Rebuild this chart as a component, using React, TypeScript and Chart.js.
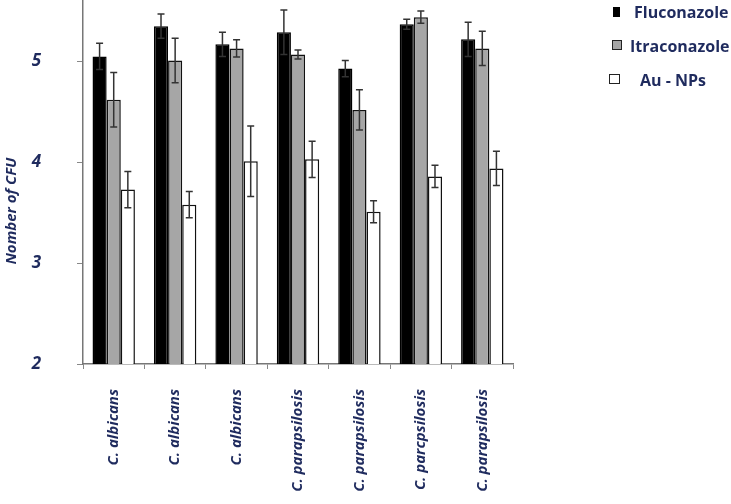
import React, { useEffect, useRef } from "react";
import { Chart, registerables } from "chart.js";

Chart.register(...registerables);

const categories = [
  "C. albicans",
  "C. albicans",
  "C. albicans",
  "C. parapsilosis",
  "C. parapsilosis",
  "C. parcpsilosis",
  "C. parapsilosis",
];
const fluconazole = [5.05, 5.35, 5.17, 5.29, 4.93, 5.37, 5.22];
const fluconazoleErr = [0.13, 0.12, 0.12, 0.22, 0.08, 0.05, 0.17];
const itraconazole = [4.62, 5.01, 5.13, 5.07, 4.52, 5.44, 5.13];
const itraconazoleErr = [0.27, 0.22, 0.085, 0.045, 0.2, 0.06, 0.17];
const auNPs = [3.73, 3.58, 4.01, 4.03, 3.51, 3.86, 3.94];
const auNPsErr = [0.18, 0.13, 0.35, 0.18, 0.11, 0.11, 0.17];
const yTicks = [2, 3, 4, 5];
const yTitle = "Nomber of CFU";
const seriesNames = ["Fluconazole", "Itraconazole", "Au - NPs"];

const NAVY = "#1f2b5e";
const FONT = "'Open Sans', 'Noto Sans', sans-serif";

const errors = [fluconazoleErr, itraconazoleErr, auNPsErr];

const errorBarPlugin = {
  id: "errorBars",
  afterDatasetsDraw(chart: any) {
    const ctx = chart.ctx;
    const yScale = chart.scales.y;
    ctx.save();
    ctx.strokeStyle = "#333";
    ctx.lineWidth = 1.5;
    chart.data.datasets.forEach((ds: any, di: number) => {
      const meta = chart.getDatasetMeta(di);
      meta.data.forEach((el: any, i: number) => {
        const v = ds.data[i];
        const e = errors[di][i];
        const x = el.x;
        const yt = yScale.getPixelForValue(v + e);
        const yb = yScale.getPixelForValue(v - e);
        ctx.beginPath();
        ctx.moveTo(x, yt);
        ctx.lineTo(x, yb);
        ctx.moveTo(x - 3.5, yt);
        ctx.lineTo(x + 3.5, yt);
        ctx.moveTo(x - 3.5, yb);
        ctx.lineTo(x + 3.5, yb);
        ctx.stroke();
      });
    });
    ctx.restore();
  },
};

const yTitlePlugin = {
  id: "yTitleCustom",
  afterDraw(chart: any) {
    const ctx = chart.ctx;
    ctx.save();
    ctx.translate(12, 211);
    ctx.rotate(-Math.PI / 2);
    ctx.font = `italic bold 15px ${FONT}`;
    ctx.fillStyle = NAVY;
    ctx.textAlign = "center";
    ctx.textBaseline = "middle";
    ctx.fillText(yTitle, 0, 0);
    ctx.restore();
  },
};

export default function App() {
  const ref = useRef<HTMLCanvasElement | null>(null);

  useEffect(() => {
    if (!ref.current) return;
    const chart = new Chart(ref.current, {
      type: "bar",
      data: {
        labels: categories,
        datasets: [
          {
            label: seriesNames[0],
            data: fluconazole,
            backgroundColor: "#000000",
            borderColor: "#000000",
            borderWidth: 1.5,
          },
          {
            label: seriesNames[1],
            data: itraconazole,
            backgroundColor: "#a6a6a6",
            borderColor: "#111111",
            borderWidth: 1.5,
          },
          {
            label: seriesNames[2],
            data: auNPs,
            backgroundColor: "#ffffff",
            borderColor: "#111111",
            borderWidth: 1.5,
          },
        ],
      },
      options: {
        animation: false,
        responsive: false,
        maintainAspectRatio: false,
        layout: { padding: { top: 1, right: 218, left: 0, bottom: 0 } },
        plugins: {
          legend: { display: false },
          tooltip: { enabled: false },
        },
        datasets: {
          bar: { categoryPercentage: 0.69, barPercentage: 1.0 },
        },
        scales: {
          x: {
            afterFit: (s: any) => {
              s.height = 140;
            },
            grid: {
              display: true,
              drawOnChartArea: false,
              drawTicks: true,
              tickLength: 5,
              color: "#888",
              offset: true,
            },
            border: { display: true, color: "#777", width: 1.5 },
            ticks: {
              minRotation: 90,
              maxRotation: 90,
              autoSkip: false,
              padding: 20,
              color: NAVY,
              font: { family: FONT, size: 15, style: "italic", weight: "bold" },
            },
          },
          y: {
            min: 2,
            max: 5.6,
            afterFit: (s: any) => {
              s.width = 83;
              s.paddingTop = 0;
              s.paddingBottom = 0;
            },
            afterBuildTicks: (s: any) => {
              s.ticks = yTicks.map((v) => ({ value: v }));
            },
            grid: {
              display: true,
              drawOnChartArea: false,
              drawTicks: true,
              tickLength: 6,
              color: "#888",
            },
            border: { display: true, color: "#777", width: 1.5 },
            ticks: {
              padding: 36,
              color: NAVY,
              font: { family: FONT, size: 17, style: "italic", weight: "bold" },
            },
          },
        },
      },
      plugins: [errorBarPlugin, yTitlePlugin],
    });
    return () => chart.destroy();
  }, []);

  const legendItems = [
    { name: seriesNames[0], box: { left: 613, top: 7, w: 7, h: 10, bg: "#000", border: "none" }, textLeft: 634, cy: 12 },
    { name: seriesNames[1], box: { left: 612, top: 40, w: 8, h: 8, bg: "#a6a6a6", border: "1.5px solid #222" }, textLeft: 630, cy: 46 },
    { name: seriesNames[2], box: { left: 609, top: 74, w: 9, h: 8, bg: "#fff", border: "1.5px solid #222" }, textLeft: 640, cy: 80 },
  ];

  return (
    <div style={{ position: "fixed", left: 0, top: 0, width: 731, height: 504, background: "#fff" }}>
      <canvas ref={ref} width={731} height={504} style={{ position: "absolute", left: 0, top: 0 }} />
      {legendItems.map((it) => (
        <React.Fragment key={it.name}>
          <div
            style={{
              position: "absolute",
              left: it.box.left,
              top: it.box.top,
              width: it.box.w,
              height: it.box.h,
              background: it.box.bg,
              border: it.box.border,
            }}
          />
          <div
            style={{
              position: "absolute",
              left: it.textLeft,
              top: it.cy - 11,
              height: 22,
              lineHeight: "22px",
              fontFamily: FONT,
              fontWeight: "bold",
              fontSize: 16,
              color: NAVY,
              whiteSpace: "nowrap",
            }}
          >
            {it.name}
          </div>
        </React.Fragment>
      ))}
    </div>
  );
}
